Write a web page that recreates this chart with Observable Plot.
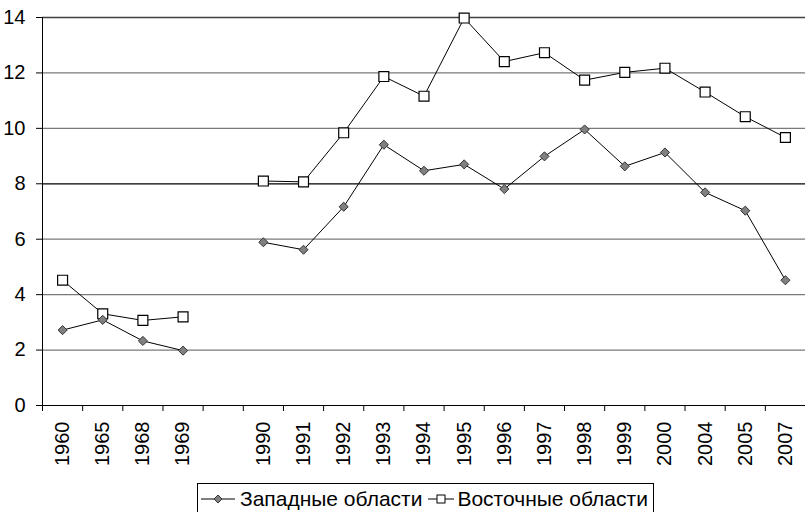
<!DOCTYPE html>
<html>
<head>
<meta charset="utf-8">
<script src="https://cdn.jsdelivr.net/npm/d3@7"></script>
<script src="https://cdn.jsdelivr.net/npm/@observablehq/plot@0.6"></script>
<style>
  html, body { margin: 0; padding: 0; background: #fff; overflow: hidden; }
  body { width: 805px; height: 512px; position: relative; font-family: "Liberation Sans", Arial, sans-serif; }
  #legend {
    position: absolute; left: 197px; top: 483px; width: 457px; height: 32px;
    border: 1px solid #000; box-sizing: border-box; display: flex; align-items: center;
    font-size: 21px; color: #000; white-space: nowrap; padding-left: 3px;
  }
  #legend svg { display: block; flex: none; }
  #legend span { margin-left: 5px; margin-right: 6px; }
</style>
</head>
<body>
<div id="chart"></div>
<div id="legend"></div>
<script>
const categories = ["1960","1965","1968","1969","","1990","1991","1992","1993","1994","1995","1996","1997","1998","1999","2000","2004","2005","2007"];
const western = [2.72,3.09,2.33,1.98,null,5.89,5.62,7.17,9.41,8.47,8.70,7.81,8.99,9.96,8.63,9.13,7.69,7.03,4.52];
const eastern = [4.52,3.31,3.07,3.20,null,8.10,8.07,9.84,11.87,11.16,13.98,12.41,12.73,11.74,12.02,12.17,11.31,10.42,9.67];
const yTicks = [0,2,4,6,8,10,12,14];
const seriesNames = ["Западные области", "Восточные области"];

const idx = categories.map((_, i) => i);
const westData = idx.map(i => ({x: i + 0.5, y: western[i]}));
const eastData = idx.map(i => ({x: i + 0.5, y: eastern[i]}));
const bounds = d3.range(categories.length + 1);

const chart = Plot.plot({
  width: 805,
  height: 480,
  marginTop: 17,
  marginBottom: 75,
  marginLeft: 42,
  marginRight: 0,
  style: {fontFamily: "'Liberation Sans', Arial, sans-serif", fontSize: "20px", color: "#000", background: "#fff"},
  x: {type: "linear", domain: [0, categories.length]},
  y: {domain: [0, 14]},
  marks: [
    Plot.ruleY(yTicks.filter(d => d > 0), {stroke: d => d === 8 ? "#000" : d === 14 ? "#404040" : "#7a7a7a", strokeWidth: 1.3}),
    Plot.axisY(yTicks, {tickSize: 6, tickPadding: 11, fontSize: 20, stroke: "#000", strokeOpacity: 1, label: null}),
    Plot.axisX(bounds, {tickSize: 6, tickFormat: () => "", stroke: "#000", strokeOpacity: 1, label: null}),
    Plot.axisX(idx.map(i => i + 0.5), {tickSize: 0, tickPadding: 16, tickRotate: -90, fontSize: 20, tickFormat: d => categories[Math.round(d - 0.5)], label: null}),
    Plot.frame({anchor: "left", stroke: "#000"}),
    Plot.frame({anchor: "bottom", stroke: "#000"}),
    Plot.line(eastData, {x: "x", y: "y", stroke: "#000", strokeWidth: 1}),
    Plot.line(westData, {x: "x", y: "y", stroke: "#000", strokeWidth: 1}),
    Plot.dot(eastData.filter(d => d.y != null), {x: "x", y: "y", symbol: "square", r: 5.6, fill: "#fff", stroke: "#000", strokeWidth: 1.2}),
    Plot.dot(westData.filter(d => d.y != null), {x: "x", y: "y", symbol: "diamond2", r: 4.1, fill: "#808080", stroke: "#333", strokeWidth: 1})
  ]
});
document.getElementById("chart").appendChild(chart);

const legend = document.getElementById("legend");
legend.innerHTML = `
  <svg width="34" height="14" viewBox="0 0 34 14"><line x1="0" y1="7" x2="34" y2="7" stroke="#000"/><path d="M17 3 L21 7 L17 11 L13 7 Z" fill="#808080" stroke="#333"/></svg>
  <span>${seriesNames[0]}</span>
  <svg width="26" height="14" viewBox="0 0 26 14"><line x1="0" y1="7" x2="26" y2="7" stroke="#000"/><rect x="9" y="3" width="8" height="8" fill="#fff" stroke="#000"/></svg>
  <span style="margin-left:3px">${seriesNames[1]}</span>`;
</script>
</body>
</html>
